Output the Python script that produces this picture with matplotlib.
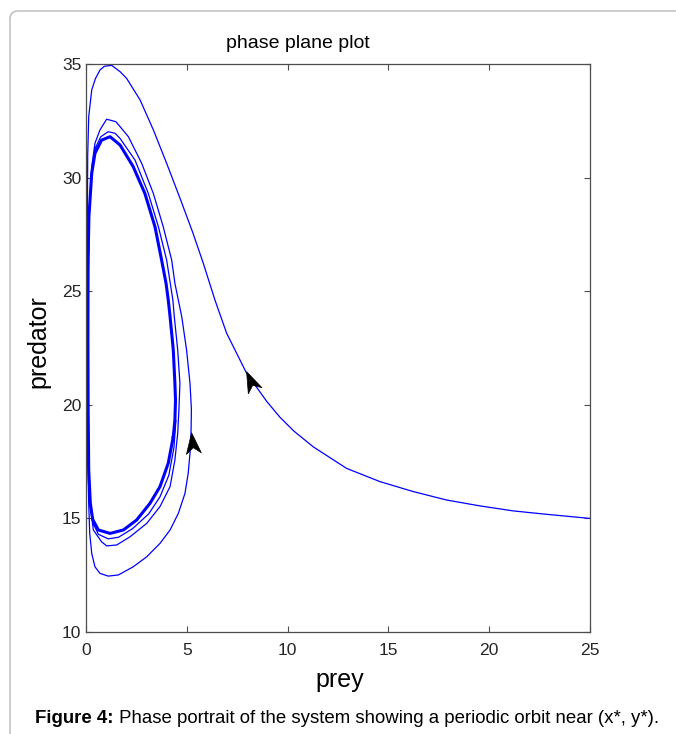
import numpy as np
import matplotlib
matplotlib.use('Agg')
import matplotlib.pyplot as plt
from matplotlib.patches import Polygon, FancyBboxPatch
from matplotlib.transforms import Affine2D, ScaledTranslation, IdentityTransform

# trajectory (prey, predator)
approach_x = [25.0, 22.86, 21.2, 19.55, 17.89, 16.24, 14.58, 12.93, 11.27, 10.3, 9.62, 8.96,
              7.96, 6.97, 6.39, 5.81, 5.28, 4.65, 3.99, 3.33, 2.67, 2.0, 1.68, 1.26, 0.9,
              0.68, 0.45, 0.27, 0.12, 0.07, 0.05, 0.05, 0.05, 0.07, 0.12, 0.17, 0.27, 0.43,
              0.68, 1.09, 1.59, 2.33, 3.0, 3.66, 4.16, 4.57, 4.9, 5.06, 5.15]
approach_y = [15.0, 15.18, 15.33, 15.55, 15.81, 16.18, 16.62, 17.2, 18.15, 18.85, 19.45, 20.15,
              21.39, 23.15, 24.61, 26.23, 27.6, 29.1, 30.63, 32.1, 33.42, 34.37, 34.66, 34.94, 34.9,
              34.74, 34.35, 33.86, 32.68, 31.0, 28.0, 24.0, 20.0, 17.5, 15.66, 14.34, 13.46, 12.87,
              12.58, 12.46, 12.51, 12.87, 13.31, 13.9, 14.49, 15.22, 16.1, 16.98, 17.87]

loop2_x = [5.2, 5.22, 5.15, 4.98, 4.74, 4.57, 4.4, 4.24, 3.82, 3.33, 2.75, 2.09, 1.68, 1.47,
           1.01, 0.68, 0.43, 0.27, 0.14, 0.09, 0.08, 0.12, 0.2, 0.35, 0.76, 1.01, 1.51, 2.17,
           3.0, 3.66, 4.16, 4.4, 4.54]
loop2_y = [18.75, 19.8, 20.94, 22.41, 23.88, 24.61, 25.35, 26.37, 27.84, 29.3, 30.63, 31.8, 32.24, 32.46,
           32.57, 32.1, 31.51, 30.48, 28.5, 25.0, 20.0, 17.0, 15.52, 14.49, 13.97, 13.79, 13.83, 14.19,
           14.78, 15.52, 16.4, 17.57, 18.75]

loop3_x = [4.6, 4.65, 4.54, 4.37, 4.3, 3.99, 3.58, 3.08, 2.42, 1.68, 1.43, 1.09, 0.72, 0.45,
           0.28, 0.14, 0.09, 0.08, 0.12, 0.2, 0.33, 0.6, 1.09, 1.6, 2.3, 3.1, 3.66, 4.1, 4.35, 4.45]
loop3_y = [19.8, 20.94, 22.41, 23.88, 24.61, 26.37, 27.84, 29.3, 30.77, 31.72, 31.95, 32.02, 31.8, 31.3,
           30.3, 28.3, 25.0, 20.0, 17.0, 15.6, 14.8, 14.3, 14.1, 14.17, 14.55, 15.2, 15.95, 16.9, 18.1, 19.3]

cycle_x = [4.32, 4.4, 4.43, 4.4, 4.32, 4.16, 4.07, 3.96, 3.74, 3.41, 2.91, 2.33, 1.68, 1.18, 0.76,
           0.43, 0.27, 0.13, 0.09, 0.08, 0.09, 0.12, 0.2, 0.32, 0.6, 1.18, 1.84, 2.5, 3.16, 3.66, 4.07, 4.32]
cycle_y = [18.6, 19.33, 20.2, 20.94, 22.41, 23.88, 24.61, 25.35, 26.37, 27.84, 29.3, 30.48, 31.43, 31.8, 31.65,
           31.07, 30.19, 28.28, 26.52, 23.0, 20.0, 17.13, 15.66, 14.95, 14.49, 14.34, 14.49, 14.93, 15.66, 16.4, 17.43, 18.6]

# arrow heads: tip and a point behind it on the curve
arrow_tip_x = [7.96, 5.23]
arrow_tip_y = [21.46, 18.77]
arrow_back_x = [8.38, 5.34]
arrow_back_y = [20.63, 17.88]

traj_x = approach_x + loop2_x + loop3_x
traj_y = approach_y + loop2_y + loop3_y

plt.rcParams['font.family'] = ['Liberation Sans', 'DejaVu Sans']

W, H = 676, 734
fig = plt.figure(figsize=(W / 100, H / 100), dpi=100)
ax = fig.add_axes([86.3 / W, 1 - 632 / H, (589.7 - 86.3) / W, (632 - 64) / H])

# light rounded frame around the whole figure
frame = FancyBboxPatch((10, -20), 700, H - 11 + 20, boxstyle='round,pad=0,rounding_size=8',
                       transform=IdentityTransform(), fc='none', ec='#c4c4c4', lw=1.2)
fig.add_artist(frame)

ax.plot(traj_x, traj_y, color='#0000ff', lw=0.9)
ax.plot(cycle_x, cycle_y, color='#0000ff', lw=2.2)

ax.set_xlim(0, 25)
ax.set_ylim(10, 35)
ax.set_xticks([0, 5, 10, 15, 20, 25])
ax.set_yticks([10, 15, 20, 25, 30, 35])
ax.tick_params(direction='in', length=4, width=0.8, top=True, right=True,
               color='#4d4d4d', labelcolor='#262626', labelsize=12.6)
ax.tick_params(axis='x', pad=8)
ax.tick_params(axis='y', pad=3.5)
for s in ax.spines.values():
    s.set_color('#4d4d4d')
    s.set_linewidth(0.9)

# notched black arrow heads (MATLAB style)
head = np.array([[0, 0], [-21, 7.5], [-15, 0], [-21, -7.5]])
for tx, ty, bx, by in zip(arrow_tip_x, arrow_tip_y, arrow_back_x, arrow_back_y):
    p1 = ax.transData.transform((tx, ty))
    p0 = ax.transData.transform((bx, by))
    ang = np.arctan2(p1[1] - p0[1], p1[0] - p0[0])
    tr = Affine2D().rotate(ang) + ScaledTranslation(tx, ty, ax.transData)
    ax.add_patch(Polygon(head, closed=True, transform=tr, fc='black', ec='black',
                         lw=0.5, clip_on=False, zorder=4))

fig.text(297.5 / W, 1 - 43 / H, 'phase plane plot', ha='center', va='center', fontsize=14)
fig.text(340 / W, 1 - 680 / H, 'prey', ha='center', va='center', fontsize=18)
fig.text(38 / W, 1 - 342 / H, 'predator', ha='center', va='center', rotation=90, fontsize=18)

t1 = fig.text(35 / W, 1 - 723 / H, 'Figure 4:', fontsize=13.4, weight='bold', va='baseline')
fig.canvas.draw()
bb = t1.get_window_extent(fig.canvas.get_renderer())
fig.text(bb.x1 / W, 1 - 723 / H, ' Phase portrait of the system showing a periodic orbit near (x*, y*).',
         fontsize=13.4, va='baseline')

fig.savefig('out.png', dpi=100)
